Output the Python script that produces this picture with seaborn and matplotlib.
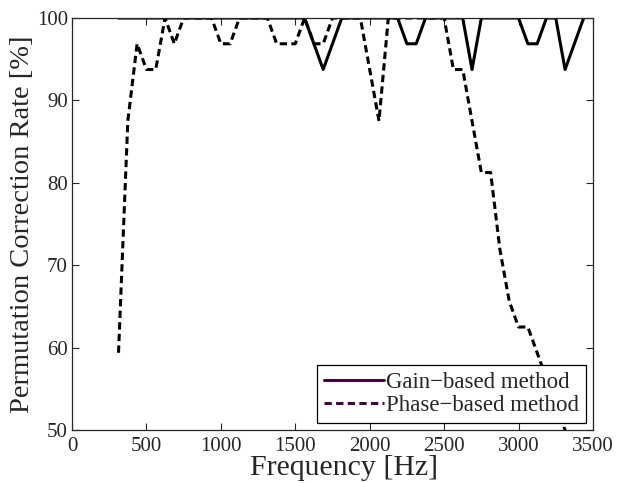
import numpy as np
import pandas as pd
import seaborn as sns
import matplotlib.pyplot as plt
from matplotlib.lines import Line2D

# frequency bins [Hz]
freq = [312.5, 375, 437.5, 500, 562.5, 625, 687.5, 750, 812.5, 875,
        937.5, 1000, 1062.5, 1125, 1187.5, 1250, 1312.5, 1375, 1437.5, 1500,
        1562.5, 1625, 1687.5, 1750, 1812.5, 1875, 1937.5, 2000, 2062.5, 2125,
        2187.5, 2250, 2312.5, 2375, 2437.5, 2500, 2562.5, 2625, 2687.5, 2750,
        2812.5, 2875, 2937.5, 3000, 3062.5, 3125, 3187.5, 3250, 3312.5, 3375,
        3437.5]

# permutation correction rate [%]
gain = [100, 100, 100, 100, 100, 100, 100, 100, 100, 100,
        100, 100, 100, 100, 100, 100, 100, 100, 100, 100,
        100, 96.875, 93.75, 96.875, 100, 100, 100, 100, 100, 100,
        100, 96.875, 96.875, 100, 100, 100, 100, 100, 93.75, 100,
        100, 100, 100, 100, 96.875, 96.875, 100, 100, 93.75, 96.875,
        100]

phase = [59.375, 87.5, 96.875, 93.75, 93.75, 100, 96.875, 100, 100, 100,
         100, 96.875, 96.875, 100, 100, 100, 100, 96.875, 96.875, 96.875,
         100, 96.875, 96.875, 100, 100, 100, 100, 93.75, 87.5, 100,
         100, 100, 100, 100, 100, 100, 93.75, 93.75, 87.5, 81.25,
         81.25, 71.875, 65.625, 62.5, 62.5, 59.375, 56.25, 53.125, 50.0, 46.875,
         43.75]

labels = ['Gain\u2212based method', 'Phase\u2212based method']

sns.set_style('ticks')
plt.rcParams['font.family'] = ['Liberation Serif', 'DejaVu Serif']

df = pd.DataFrame({'freq': freq, 'gain': gain, 'phase': phase})

fig = plt.figure(figsize=(6.18, 4.83), dpi=100)
ax = fig.add_axes([0.1165, 0.1097, 0.843, 0.853])

sns.lineplot(data=df, x='freq', y='gain', color='black', linewidth=2.2, ax=ax)
sns.lineplot(data=df, x='freq', y='phase', color='black', linewidth=2.2,
             linestyle=(0, (2.4, 1.4)), ax=ax)

ax.set_xlim(0, 3500)
ax.set_ylim(50, 100)
ax.set_xticks(np.arange(0, 3501, 500))
ax.set_yticks(np.arange(50, 101, 10))
ax.tick_params(direction='in', top=True, right=True, labelsize=15,
               length=5, width=0.8)
ax.tick_params(axis='x', pad=5)
ax.tick_params(axis='y', pad=3)
for s in ax.spines.values():
    s.set_linewidth(0.9)
    s.set_visible(True)

ax.set_xlabel('Frequency [Hz]', fontsize=21.5)
ax.xaxis.set_label_coords(0.522, -0.06, transform=ax.transAxes)
ax.xaxis.label.set_va('top')
ax.set_ylabel('Permutation Correction Rate [%]', fontsize=20.5, labelpad=1)

lc = '#3d0a3d'
handles = [Line2D([], [], color=lc, linewidth=2.2),
           Line2D([], [], color=lc, linewidth=2.2, linestyle=(0, (2.4, 1.4)))]
leg = ax.legend(handles, labels, loc='lower right', fontsize=16.5,
                frameon=True, fancybox=False, edgecolor='black',
                framealpha=1, facecolor='white',
                handlelength=2.6, handletextpad=0.1, borderpad=0.3,
                labelspacing=0.1, borderaxespad=0.3)
leg.get_frame().set_linewidth(0.9)
leg.set_zorder(10)

fig.savefig('out.png', dpi=100)
